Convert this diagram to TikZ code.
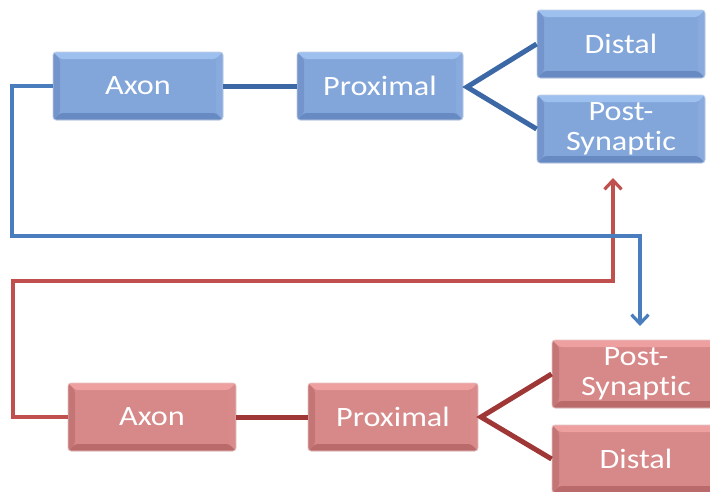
\documentclass[tikz,border=0pt]{standalone}
\usepackage{fontspec}
\newfontfamily\boxfont[FakeStretch=1.15,Ligatures=NoCommon]{Carlito}
\usetikzlibrary{arrows.meta}

\definecolor{bfill}{RGB}{130,166,218}
\definecolor{blight}{RGB}{158,192,238}
\definecolor{bdark}{RGB}{104,138,194}
\definecolor{bline}{RGB}{74,125,190}
\definecolor{bthick}{RGB}{60,105,165}
\definecolor{rfill}{RGB}{215,136,136}
\definecolor{rlight}{RGB}{238,160,160}
\definecolor{rdark}{RGB}{186,106,106}
\definecolor{rline}{RGB}{192,80,77}
\definecolor{rthick}{RGB}{160,55,55}

% bevelled faces drawn inside a box (light top/right, dark left/bottom)
\newcommand\bevelfaces[2]{%
  \fill[#1] (path picture bounding box.north west) -- (path picture bounding box.north east)
    -- ([shift={(-7pt,-7pt)}]path picture bounding box.north east)
    -- ([shift={(7pt,-7pt)}]path picture bounding box.north west) -- cycle;
  \fill[#1!60!#2] (path picture bounding box.north east) -- (path picture bounding box.south east)
    -- ([shift={(-7pt,7pt)}]path picture bounding box.south east)
    -- ([shift={(-7pt,-7pt)}]path picture bounding box.north east) -- cycle;
  \fill[#2] (path picture bounding box.south west) -- (path picture bounding box.south east)
    -- ([shift={(-7pt,7pt)}]path picture bounding box.south east)
    -- ([shift={(7pt,7pt)}]path picture bounding box.south west) -- cycle;
  \fill[#2!80!#1] (path picture bounding box.north west) -- (path picture bounding box.south west)
    -- ([shift={(7pt,7pt)}]path picture bounding box.south west)
    -- ([shift={(7pt,-7pt)}]path picture bounding box.north west) -- cycle;
}

\tikzset{
  boxbase/.style={rectangle, rounded corners=3pt, minimum width=168pt, minimum height=68pt,
    inner sep=0pt, text=white, align=center,
    font=\boxfont\fontsize{28}{30}\selectfont},
  bluebox/.style={boxbase, fill=bfill, draw=bdark!40!white, line width=0.8pt,
    path picture={\bevelfaces{blight}{bdark}}},
  redbox/.style={boxbase, fill=rfill, draw=rdark!40!white, line width=0.8pt,
    path picture={\bevelfaces{rlight}{rdark}}},
  thickb/.style={draw=bthick, line width=5pt},
  thickr/.style={draw=rthick, line width=5pt},
  thinb/.style={draw=bline, line width=3.2pt},
  thinr/.style={draw=rline, line width=3.2pt},
  tip/.style={-{Straight Barb[length=9pt,width=17pt,line width=3.2pt]}},
}

\begin{document}
\begin{tikzpicture}[x=1pt,y=-1pt]
\useasboundingbox (0,0) rectangle (710,491);
\clip (0,0) rectangle (710,491);
\fill[white] (0,0) rectangle (710,491);

% upper (blue) row
\node[bluebox, minimum width=170pt] (bAxon) at (138,86) {Axon};
\node[bluebox, minimum width=166pt] (bProx) at (380,86) {Proximal};
\node[bluebox, minimum width=168pt] (bDist) at (621,44) {Distal};
\node[bluebox, minimum width=168pt] (bPost) at (621,129) {Post-\\Synaptic};

% lower (red) row
\node[redbox, minimum width=168pt] (rAxon) at (152,417) {Axon};
\node[redbox, minimum width=170pt] (rProx) at (393,417) {Proximal};
\node[redbox, minimum width=168pt] (rPost) at (636,374) {Post-\\Synaptic};
\node[redbox, minimum width=168pt] (rDist) at (636,459) {Distal};

% routing points
\coordinate (bFork) at (467,87);
\coordinate (rFork) at (481,417);
\coordinate (bl1) at (12,236);
\coordinate (bl2) at (640,236);
\coordinate (bArrow) at (640,326);
\coordinate (rl1) at (13,281);
\coordinate (rl2) at (613,281);
\coordinate (rArrow) at (613,178);

% feedback lines (drawn under the row connectors)
\draw[thinb, tip] (bAxon.west) -| (bl1) -- (bl2) -- (bArrow);
\draw[thinr, tip] (rAxon.west) -| (rl1) -- (rl2) -- (rArrow);
\draw[thinb] (bl1) -- (bl2);

% row connectors
\draw[thickb] (bAxon.east) -- (bProx.west);
\draw[thickb, line join=miter] (bDist.west) -- (bFork) -- (bPost.west);
\draw[thickr] (rAxon.east) -- (rProx.west);
\draw[thickr, line join=miter] (rPost.west) -- (rFork) -- (rDist.west);
\end{tikzpicture}
\end{document}
